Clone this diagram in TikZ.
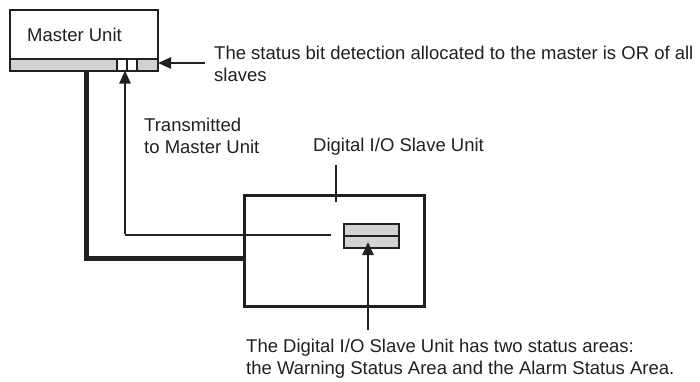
\documentclass[tikz,border=0pt]{standalone}
\usepackage{fontspec}
\setmainfont{Liberation Sans}
\usetikzlibrary{arrows.meta}
\definecolor{ink}{HTML}{231F20}
\definecolor{panel}{HTML}{D1D2D4}
\begin{document}
\begin{tikzpicture}[x=1pt,y=-1pt,
  lbl/.style={inner sep=0pt,anchor=base west,align=left,font=\fontsize{18.5}{22}\selectfont,text=ink},
  boxline/.style={draw=ink,line width=1.6pt},
  arr/.style={draw=ink,line width=2.6pt,-{Triangle[length=13pt,width=11pt]}},
  thickbus/.style={draw=ink,line width=5pt},
  thinline/.style={draw=ink,line width=1.8pt}]
\useasboundingbox (0,0) rectangle (700,381);
% Master unit
\node[boxline,fill=white,minimum width=148pt,minimum height=49pt,inner sep=0pt,anchor=north west] (master) at (9,9) {};
\node[boxline,fill=panel,minimum width=148pt,minimum height=12pt,inner sep=0pt,anchor=north west] (strip) at (9,58) {};
\node[boxline,fill=white,minimum width=10pt,minimum height=12pt,inner sep=0pt,anchor=north west] (sq1) at (116,58) {};
\node[boxline,fill=white,minimum width=10pt,minimum height=12pt,inner sep=0pt,anchor=north west] (sq2) at (126,58) {};
\node[lbl] (mtxt) at (27,41) {Master Unit};
% slave unit
\node[draw=ink,line width=2.6pt,minimum width=180pt,minimum height=111pt,inner sep=0pt,anchor=north west] (slave) at (243,194) {};
\node[boxline,fill=panel,minimum width=55pt,minimum height=12pt,inner sep=0pt,anchor=north west] (st1) at (343,223) {};
\node[boxline,fill=panel,minimum width=55pt,minimum height=12pt,inner sep=0pt,anchor=north west] (st2) at (343,235) {};
% coordinates
\coordinate (busTop) at (86,70.5);
\coordinate (busCorner) at (86,258);
\coordinate (txEnd) at (331,235);
\coordinate (txCorner) at (125,235);
\coordinate (txTip) at (125,70.5);
\coordinate (orTail) at (205,63);
\coordinate (orTip) at (158,63);
\coordinate (ldTop) at (336,165);
\coordinate (ldBot) at (336,202);
\coordinate (btTail) at (368,330);
\coordinate (btTip) at (368,242);
% bus
\draw[thickbus] (busTop) -- (busCorner) -- (slave.west |- busCorner);
% transmitted arrow
\draw[thinline] (txEnd) -- (txCorner);
\draw[arr,line width=2.4pt] ([yshift=0.9pt]txCorner) -- (txTip);
% OR arrow
\draw[arr] (orTail) -- (orTip);
% leader
\draw[thinline,line width=1.6pt] (ldTop) -- (ldBot);
% bottom arrow
\draw[arr] (btTail) -- (btTip);
% texts (base anchor = last line baseline)
\node[lbl] (ortxt) at (214,81) {The status bit detection allocated to the master is OR of all\\slaves};
\node[lbl] (txtxt) at (144,153) {Transmitted\\to Master Unit};
\node[lbl] (sltxt) at (313,151) {Digital I/O Slave Unit};
\node[lbl] (bttxt) at (246,374) {The Digital I/O Slave Unit has two status areas:\\the Warning Status Area and the Alarm Status Area.};
\end{tikzpicture}
\end{document}
